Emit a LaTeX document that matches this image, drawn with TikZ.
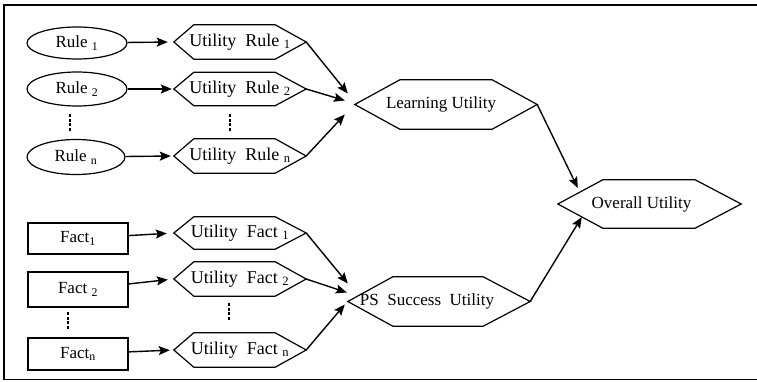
\documentclass[tikz,border=0pt]{standalone}
\usepackage{fontspec}
\setmainfont{Liberation Serif}
\usetikzlibrary{shapes.geometric,arrows.meta}

\tikzset{
  base/.style={font=\fontsize{17}{20}\selectfont, inner sep=0pt},
  rulebox/.style={base, ellipse, draw, line width=1.2pt, minimum width=100pt},
  factbox/.style={base, rectangle, draw, line width=1.3pt, minimum width=100pt},
  hexlabel/.style={base, rectangle, draw=none},
  smallhex/.style={font=\fontsize{18}{21}\selectfont},
  hexline/.style={line width=1.2pt, line join=miter},
  conn/.style={-{Stealth[length=11pt,width=9pt,inset=2pt]}, line width=1.4pt},
  frameline/.style={line width=1.6pt},
  dotmark/.style={fill=black}
}

% hexagon node: name, position, width, height, left inset, right inset, text
\newcommand\hexat[8][]{%
  \node[hexlabel, #1, minimum width=#4, minimum height=#5] (#2) at (#3) {#8};
  \draw[hexline] (#2.west) -- ([xshift=#6]#2.north west) -- ([xshift=-#7]#2.north east)
    -- (#2.east) -- ([xshift=-#7]#2.south east) -- ([xshift=#6]#2.south west) -- cycle;}

% four small stacked dots
\newcommand\vdotsat[2]{%
  \foreach \k in {0,...,3} {\fill[dotmark] (#1-1.4,#2+\k*4.6) rectangle (#1+1.4,#2+\k*4.6+3.2);}}

\begin{document}
\begin{tikzpicture}[x=1pt,y=-1pt]
\useasboundingbox (0,0) rectangle (757,382);
\draw[frameline] (4,5) rectangle (759,379.5);

% rules
\node[rulebox, minimum height=32pt] (r1) at (77,43) {Rule \textsubscript{1}};
\node[rulebox, minimum height=34pt] (r2) at (77,89) {Rule \textsubscript{2}};
\node[rulebox, minimum width=98pt, minimum height=35pt] (rn) at (76,157) {Rule \textsubscript{n}};

% facts
\node[factbox, minimum height=31pt] (f1) at (78,238.5) {Fact\textsubscript{1}};
\node[factbox, minimum height=35pt] (f2) at (78,289.5) {Fact \textsubscript{2}};
\node[factbox, minimum height=32pt] (fn) at (78,354) {Fact\textsubscript{n}};

% utilities of rules and facts
\hexat[smallhex]{ur1}{240,42}{132pt}{34pt}{20pt}{31pt}{Utility\ \ Rule \textsubscript{1}}
\hexat[smallhex]{ur2}{240,89}{132pt}{33pt}{20pt}{31pt}{Utility\ \ Rule \textsubscript{2}}
\hexat[smallhex]{urn}{240,156}{132pt}{34pt}{20pt}{31pt}{Utility\ \ Rule \textsubscript{n}}
\hexat[smallhex]{uf1}{240,233}{132pt}{32pt}{20pt}{31pt}{Utility\ \ Fact \textsubscript{1}}
\hexat[smallhex]{uf2}{240,279}{132pt}{34pt}{20pt}{31pt}{Utility\ \ Fact \textsubscript{2}}
\hexat[smallhex]{ufn}{240,350}{132pt}{34pt}{20pt}{31pt}{Utility\ \ Fact \textsubscript{n}}

% aggregated utilities
\hexat{lu}{446,104.5}{182pt}{49pt}{45pt}{45pt}{Learning Utility\hspace*{10pt}}
\hexat{ps}{439,301.5}{182pt}{49pt}{45pt}{47pt}{PS\ \ Success\ \ Utility\hspace*{24pt}}
\hexat{ov}{649.5,204}{183pt}{48pt}{45pt}{46pt}{Overall Utility\hspace*{16pt}}

% omitted entries
\vdotsat{70}{114}
\vdotsat{230}{114}
\vdotsat{68}{312}
\vdotsat{229}{303}

% inputs to utilities
\draw[conn, shorten >=6pt] (r1) -- (ur1.west);
\draw[conn, shorten >=2pt] (r2) -- (ur2.west);
\draw[conn, shorten >=3pt] (rn) -- (urn.west);
\draw[conn, shorten >=7pt] (f1) -- (uf1.west);
\draw[conn, shorten >=6pt] (f2) -- (uf2.west);
\draw[conn, shorten >=4pt] (fn) -- (ufn.west);

% utilities to aggregates
\draw[conn] (ur1.east) -- ([xshift=-7pt,yshift=11pt]lu.west);
\draw[conn] (ur2.east) -- ([xshift=-10pt,yshift=4pt]lu.west);
\draw[conn] (urn.east) -- ([xshift=-10pt,yshift=-10pt]lu.west);
\draw[conn] (uf1.east) -- ([xshift=0pt,yshift=18pt]ps.west);
\draw[conn] (uf2.east) -- ([xshift=-1pt,yshift=9pt]ps.west);
\draw[conn] (ufn.east) -- ([xshift=-3pt,yshift=-3pt]ps.west);

% aggregates to overall
\draw[conn] (lu.east) -- ([xshift=20pt,yshift=16pt]ov.west);
\draw[conn] (ps.east) -- ([xshift=24pt,yshift=-13pt]ov.west);
\end{tikzpicture}
\end{document}
